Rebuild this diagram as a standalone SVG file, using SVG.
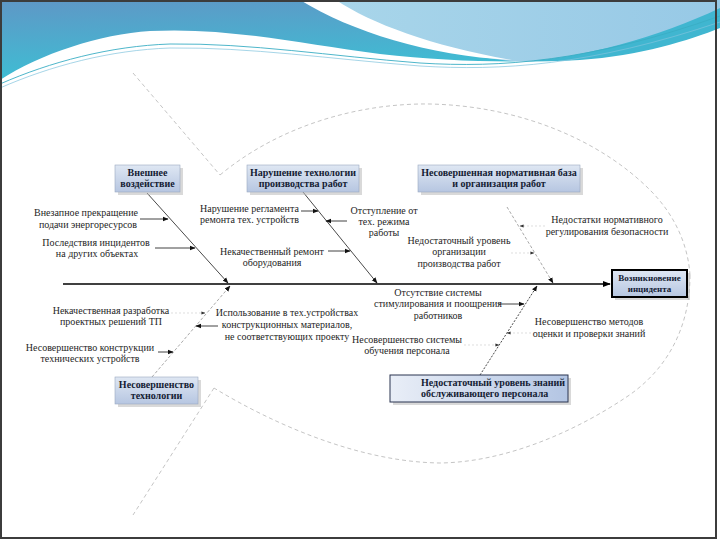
<svg xmlns="http://www.w3.org/2000/svg" width="720" height="540" viewBox="0 0 720 540">
<style>
.lbl{font-family:"Liberation Serif","Times New Roman",serif;font-size:10px;fill:#1e1e1e;text-anchor:middle}
.bt{font-family:"Liberation Serif","Times New Roman",serif;font-size:10px;font-weight:bold;fill:#141c33;text-anchor:middle}
.box{fill:url(#boxg);stroke:#9aa8c0;stroke-width:0.6}
.shd{fill:#b9b9b9;opacity:0.55}
.bone{fill:none;stroke:#1a1a1a;stroke-width:0.8}
.boneg{fill:none;stroke:#a9a9a9;stroke-width:1;stroke-dasharray:3,2}
.boned{fill:none;stroke:#333;stroke-width:0.9;stroke-dasharray:2,1.5}
.arr{fill:none;stroke:#111;stroke-width:0.8}
.arrf{fill:none;stroke:#d0d0d0;stroke-width:0.7;stroke-dasharray:2,2}
.fish{fill:none;stroke:#bdbdbd;stroke-width:0.9;stroke-dasharray:4,3}
</style>
<defs>
<linearGradient id="bg" x1="0" y1="0" x2="0.25" y2="1">
<stop offset="0" stop-color="#5f97c6"/>
<stop offset="1" stop-color="#36c7d7"/>
</linearGradient>
<linearGradient id="bgr" x1="0" y1="0" x2="1" y2="0">
<stop offset="0" stop-color="#a9d6ea"/>
<stop offset="1" stop-color="#97c9e6"/>
</linearGradient>
<linearGradient id="boxg" x1="0" y1="0" x2="0" y2="1">
<stop offset="0" stop-color="#dfe7f3"/>
<stop offset="1" stop-color="#b6c6e1"/>
</linearGradient>
<linearGradient id="boxh" x1="0" y1="0" x2="1" y2="0">
<stop offset="0" stop-color="#e9eef7"/>
<stop offset="1" stop-color="#b3c5e3"/>
</linearGradient>
<marker id="ah" viewBox="0 0 10 10" refX="9" refY="5" markerWidth="6" markerHeight="6" orient="auto" markerUnits="userSpaceOnUse"><path d="M0,1 L10,5 L0,9 Z" fill="#111"/></marker>
<marker id="ahb" viewBox="0 0 10 10" refX="9" refY="5" markerWidth="8" markerHeight="8" orient="auto" markerUnits="userSpaceOnUse"><path d="M0,1 L10,5 L0,9 Z" fill="#000"/></marker>
<marker id="ahs" viewBox="0 0 10 10" refX="9" refY="5" markerWidth="4" markerHeight="4" orient="auto" markerUnits="userSpaceOnUse"><path d="M0,1 L10,5 L0,9 Z" fill="#333"/></marker>
</defs>

<g id="background">
<rect x="0" y="0" width="720" height="540" fill="#ffffff"/>
<rect x="0" y="0" width="720" height="95" fill="url(#bg)"/>
<path d="M318,0 C380,30 440,55 520,62 C600,68 670,40 720,14 L720,0 Z" fill="url(#bgr)"/>
<path d="M300,0 L336,0 C372,24 432,46 512,60 C430,56 352,32 300,0 Z" fill="#ffffff"/>
<path d="M440,63 C540,70 640,46 720,8 L720,30 C650,56 560,72 440,67 Z" fill="#40b6d0"/>
<path d="M0,80 C40,54 100,34 150,31 C230,27 300,44 380,54 C450,62 520,63 580,60 C640,56 690,40 720,28 L720,540 L0,540 Z" fill="#ffffff"/>
<path d="M0,84 C50,62 110,46 170,44 C250,43 330,56 420,63 C500,68 590,62 720,16" fill="none" stroke="#3aaec4" stroke-width="0.9"/>
<path d="M0,88 C50,66 110,50 170,48 C250,47 330,59 420,66 C500,71 590,66 720,22" fill="none" stroke="#7fc3dc" stroke-width="0.7"/>
<rect x="1" y="1" width="715" height="537" fill="none" stroke="#3c3c3c" stroke-width="2"/>
</g>

<g id="fish-outline">
<path class="fish" d="M133,73 L220,175"/>
<path class="fish" d="M220,175 C280,125 360,103 430,104 C520,106 600,140 650,190 C675,215 688,245 690,275"/>
<path class="fish" d="M690,275 C690,330 665,372 625,398 C580,428 510,462 440,463 C360,462 275,425 214,388"/>
<path class="fish" d="M214,388 L133,515"/>
</g>

<g id="connectors">
<line x1="63" y1="284" x2="610" y2="284" stroke="#000" stroke-width="1.5" marker-end="url(#ahb)"/>
<line class="bone" x1="147" y1="193" x2="228" y2="283" marker-end="url(#ah)"/>
<line class="bone" x1="303" y1="192" x2="377" y2="283" marker-end="url(#ah)"/>
<line class="boneg" x1="507" y1="207" x2="553" y2="283" marker-end="url(#ah)"/>
<line class="boneg" x1="152" y1="377" x2="230" y2="286" marker-end="url(#ah)"/>
<line class="boned" x1="480" y1="375" x2="537" y2="286" marker-end="url(#ah)"/>
<line class="arr" x1="140" y1="219" x2="168" y2="219" marker-end="url(#ah)"/>
<line class="arr" x1="155" y1="248" x2="195" y2="248" marker-end="url(#ah)"/>
<line class="arr" x1="301" y1="211" x2="318" y2="211" marker-end="url(#ah)"/>
<line class="arr" x1="347" y1="221" x2="326" y2="221" marker-end="url(#ah)"/>
<line class="arr" x1="328" y1="251" x2="350" y2="251" marker-end="url(#ah)"/>
<line class="arrf" x1="545" y1="226" x2="520" y2="226" marker-end="url(#ahs)"/>
<line class="arrf" x1="511" y1="253" x2="534" y2="253" marker-end="url(#ahs)"/>
<line class="arrf" x1="171" y1="313" x2="205" y2="313" marker-end="url(#ahs)"/>
<line class="arr" x1="158" y1="352" x2="173" y2="352" marker-end="url(#ah)"/>
<line class="arr" x1="218" y1="326" x2="196" y2="326" marker-end="url(#ah)"/>
<line class="arr" x1="498" y1="304" x2="524" y2="304" marker-end="url(#ah)"/>
<line class="arrf" x1="535" y1="333" x2="507" y2="333" marker-end="url(#ahs)"/>
<line class="arrf" x1="464" y1="345" x2="499" y2="345" marker-end="url(#ahs)"/>
</g>

<g id="head">
<rect class="shd" x="615" y="273" width="75" height="27"/>
<rect x="612" y="270" width="75" height="27" fill="url(#boxg)" stroke="#000" stroke-width="2"/>
<text class="bt" x="649.5" y="281" font-size="9" style="font-size:9px">Возникновение</text>
<text class="bt" x="649.5" y="292" style="font-size:9px">инцидента</text>
</g>

<g id="cause-external">
<rect class="shd" x="118" y="168" width="65" height="27"/>
<rect class="box" x="115" y="165" width="65" height="27"/>
<text class="bt" x="147.5" y="176">Внешнее</text>
<text class="bt" x="147.5" y="187">воздействие</text>
</g>

<g id="cause-technology-violation">
<rect class="shd" x="250" y="168" width="112" height="27"/>
<rect class="box" x="247" y="165" width="112" height="27"/>
<text class="bt" x="303" y="176">Нарушение технологии</text>
<text class="bt" x="303" y="187">производства работ</text>
</g>

<g id="cause-normative">
<rect class="shd" x="421" y="168" width="162" height="27"/>
<rect class="box" x="418" y="165" width="162" height="27"/>
<text class="bt" x="499" y="176">Несовершенная нормативная база</text>
<text class="bt" x="499" y="187">и организация работ</text>
</g>

<g id="cause-imperfect-technology">
<rect class="shd" x="118" y="380" width="83" height="27"/>
<rect class="box" x="115" y="377" width="83" height="27"/>
<text class="bt" x="156.5" y="388">Несовершенство</text>
<text class="bt" x="156.5" y="399">технологии</text>
</g>

<g id="cause-knowledge">
<rect class="shd" x="393" y="378" width="178" height="27"/>
<rect x="390" y="375" width="178" height="27" fill="url(#boxh)" stroke="#2b3550" stroke-width="1"/>
<text class="bt" x="421" y="386" style="text-anchor:start">Недостаточный уровень знаний</text>
<text class="bt" x="421" y="397" style="text-anchor:start">обслуживающего персонала</text>
</g>

<g id="sub-power">
<text class="lbl" x="86" y="216">Внезапное прекращение</text>
<text class="lbl" x="88" y="228">подачи энергоресурсов</text>
</g>
<g id="sub-incidents">
<text class="lbl" x="96" y="246">Последствия инцидентов</text>
<text class="lbl" x="97" y="257">на других объектах</text>
</g>
<g id="sub-repair-rules">
<text class="lbl" x="200" y="212" style="text-anchor:start">Нарушение регламента</text>
<text class="lbl" x="200" y="223" style="text-anchor:start">ремонта тех. устройств</text>
</g>
<g id="sub-mode">
<text class="lbl" x="384" y="214">Отступление от</text>
<text class="lbl" x="384" y="225">тех. режима</text>
<text class="lbl" x="384" y="236">работы</text>
</g>
<g id="sub-bad-repair">
<text class="lbl" x="272" y="255">Некачественный ремонт</text>
<text class="lbl" x="272" y="266">оборудования</text>
</g>
<g id="sub-regulation">
<text class="lbl" x="607" y="223">Недостатки нормативного</text>
<text class="lbl" x="607" y="235">регулирования безопасности</text>
</g>
<g id="sub-organization">
<text class="lbl" x="459" y="244">Недостаточный уровень</text>
<text class="lbl" x="459" y="255">организации</text>
<text class="lbl" x="459" y="267">производства работ</text>
</g>
<g id="sub-design">
<text class="lbl" x="111" y="314">Некачественная разработка</text>
<text class="lbl" x="111" y="325">проектных решений ТП</text>
</g>
<g id="sub-construction">
<text class="lbl" x="90" y="351">Несовершенство конструкции</text>
<text class="lbl" x="90" y="362">технических устройств</text>
</g>
<g id="sub-materials">
<text class="lbl" x="287" y="316">Использование в тех.устройствах</text>
<text class="lbl" x="287" y="328">конструкционных материалов,</text>
<text class="lbl" x="287" y="340">не соответствующих проекту</text>
</g>
<g id="sub-motivation">
<text class="lbl" x="438" y="296">Отсутствие системы</text>
<text class="lbl" x="438" y="307">стимулирования и поощрения</text>
<text class="lbl" x="438" y="319">работников</text>
</g>
<g id="sub-training">
<text class="lbl" x="407" y="343">Несовершенство системы</text>
<text class="lbl" x="407" y="354">обучения персонала</text>
</g>
<g id="sub-assessment">
<text class="lbl" x="589" y="325">Несовершенство методов</text>
<text class="lbl" x="589" y="337">оценки и проверки знаний</text>
</g>
</svg>
